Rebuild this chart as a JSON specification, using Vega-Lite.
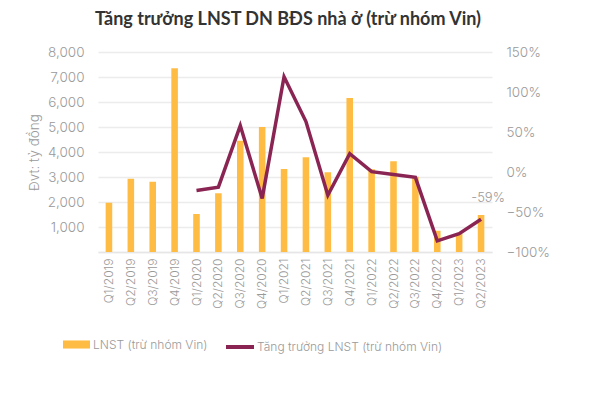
{
  "$schema": "https://vega.github.io/schema/vega-lite/v6.json",
  "autosize": {"type": "none"},
  "width": 394,
  "height": 200,
  "padding": {"left": 98, "top": 52, "right": 103, "bottom": 141},
  "background": "white",
  "title": {
    "text": "Tăng trưởng LNST DN BĐS nhà ở (trừ nhóm Vin)",
    "font": "Lato",
    "fontSize": 18,
    "fontWeight": "bold",
    "color": "#333333",
    "anchor": "middle",
    "frame": "group",
    "dx": -7,
    "offset": 16
  },
  "config": {
    "view": {"stroke": null},
    "font": "Inter",
    "axis": {"labelColor": "#9a9a9a", "titleColor": "#9a9a9a", "labelFont": "Inter", "titleFont": "Inter", "labelFontWeight": 300}
  },
  "data": {
    "values": [
      {"q": "Q1/2019", "lnst": 1970, "tt": null, "nhan": null},
      {"q": "Q2/2019", "lnst": 2930, "tt": null, "nhan": null},
      {"q": "Q3/2019", "lnst": 2810, "tt": null, "nhan": null},
      {"q": "Q4/2019", "lnst": 7350, "tt": null, "nhan": null},
      {"q": "Q1/2020", "lnst": 1520, "tt": -0.23, "nhan": null},
      {"q": "Q2/2020", "lnst": 2350, "tt": -0.19, "nhan": null},
      {"q": "Q3/2020", "lnst": 4450, "tt": 0.58, "nhan": null},
      {"q": "Q4/2020", "lnst": 5000, "tt": -0.33, "nhan": null},
      {"q": "Q1/2021", "lnst": 3320, "tt": 1.19, "nhan": null},
      {"q": "Q2/2021", "lnst": 3790, "tt": 0.63, "nhan": null},
      {"q": "Q3/2021", "lnst": 3190, "tt": -0.29, "nhan": null},
      {"q": "Q4/2021", "lnst": 6160, "tt": 0.23, "nhan": null},
      {"q": "Q1/2022", "lnst": 3310, "tt": 0.004, "nhan": null},
      {"q": "Q2/2022", "lnst": 3630, "tt": -0.03, "nhan": null},
      {"q": "Q3/2022", "lnst": 3010, "tt": -0.067, "nhan": null},
      {"q": "Q4/2022", "lnst": 850, "tt": -0.86, "nhan": null},
      {"q": "Q1/2023", "lnst": 750, "tt": -0.77, "nhan": null},
      {"q": "Q2/2023", "lnst": 1480, "tt": -0.59, "nhan": "-59%"}
    ]
  },
  "encoding": {
    "x": {
      "field": "q",
      "type": "nominal",
      "sort": null,
      "scale": {"paddingInner": 0.7, "paddingOuter": 0.35},
      "axis": {
        "title": null,
        "labelAngle": -90,
        "labelFontSize": 12,
        "labelPadding": 6,
        "ticks": false,
        "domain": true,
        "domainColor": "#e6e6e6",
        "domainWidth": 1.5
      }
    }
  },
  "layer": [
    {
      "mark": {"type": "bar", "width": {"band": 1}},
      "encoding": {
        "y": {
          "field": "lnst",
          "type": "quantitative",
          "scale": {"domain": [0, 8000], "nice": false},
          "axis": {
            "title": "Đvt: tỷ đồng",
            "titleFontSize": 13.5,
            "titleFontWeight": 300,
            "titlePadding": 6,
            "values": [0, 1000, 2000, 3000, 4000, 5000, 6000, 7000, 8000],
            "labelExpr": "datum.value == 0 ? '' : format(datum.value, ',')",
            "labelFontSize": 13.5,
            "labelPadding": 14,
            "ticks": false,
            "domain": false,
            "grid": true,
            "gridColor": "#ececec",
            "gridWidth": 1.5
          }
        },
        "color": {
          "datum": "LNST (trừ nhóm Vin)",
          "scale": {"range": ["#FFBC45"]},
          "legend": {
            "title": null,
            "orient": "none",
            "legendX": -35,
            "legendY": 279,
            "padding": 0,
            "symbolType": "M-1,-0.3H1V0.3H-1Z",
            "symbolSize": 729,
            "symbolStrokeWidth": 0,
            "labelOffset": 3,
            "labelFontSize": 12,
            "labelLimit": 400,
            "labelColor": "#9a9a9a",
            "labelFont": "Inter",
            "labelFontWeight": 300
          }
        }
      }
    },
    {
      "mark": {"type": "line", "strokeWidth": 3.5, "strokeJoin": "miter"},
      "encoding": {
        "y": {
          "field": "tt",
          "type": "quantitative",
          "scale": {"domain": [-1, 1.5], "nice": false},
          "axis": {
            "orient": "right",
            "title": null,
            "values": [-1, -0.5, 0, 0.5, 1, 1.5],
            "format": ".0%",
            "labelFontSize": 13.5,
            "labelPadding": 14,
            "ticks": false,
            "domain": false,
            "grid": false
          }
        },
        "stroke": {
          "datum": "Tăng trưởng LNST (trừ nhóm Vin)",
          "scale": {"range": ["#8A2453"]},
          "legend": {
            "title": null,
            "orient": "none",
            "legendX": 126,
            "legendY": 279,
            "padding": 0,
            "symbolType": "stroke",
            "symbolSize": 784,
            "symbolStrokeWidth": 4,
            "labelOffset": 1,
            "labelFontSize": 12,
            "labelLimit": 400,
            "labelColor": "#9a9a9a",
            "labelFont": "Inter",
            "labelFontWeight": 300
          }
        }
      }
    },
    {
      "transform": [{"filter": "datum.nhan != null"}],
      "mark": {"type": "text", "dx": 7, "dy": -21, "fontSize": 13, "color": "#9a9a9a", "font": "Inter", "fontWeight": 300},
      "encoding": {
        "y": {"field": "tt", "type": "quantitative", "scale": {"domain": [-1, 1.5], "nice": false}, "axis": null},
        "text": {"field": "nhan"}
      }
    }
  ],
  "resolve": {"scale": {"y": "independent"}}
}
